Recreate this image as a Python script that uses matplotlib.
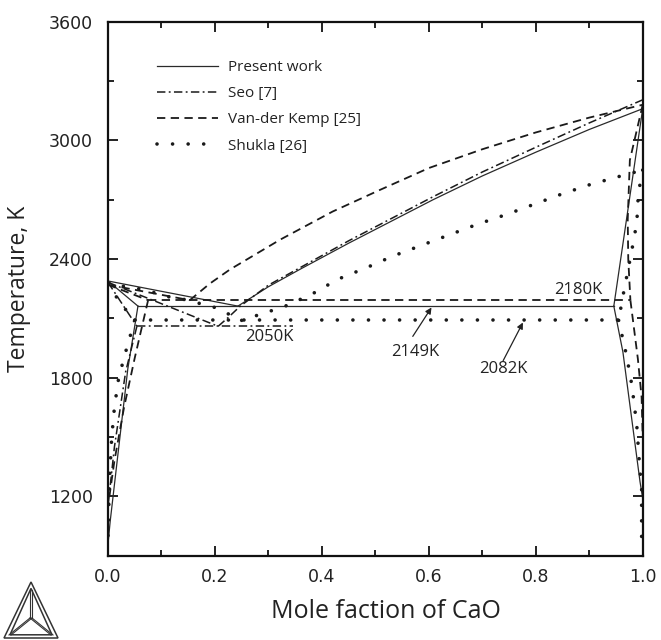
import matplotlib
matplotlib.use('Agg')
import matplotlib.pyplot as plt
from matplotlib.patches import Polygon

# ---------------- data (mole fraction CaO, temperature K) ----------------
# Present work (solid)
pw_liq_left_x = [0.0, 0.243]
pw_liq_left_T = [2289, 2162]
pw_liq_right_x = [0.243, 0.30, 0.359, 0.45, 0.608, 0.70, 0.80, 0.90, 1.0]
pw_liq_right_T = [2162, 2260, 2348, 2480, 2700, 2820, 2940, 3055, 3160]
pw_sol_left_x = [0.0, 0.056]
pw_sol_left_T = [2289, 2162]
pw_solv_left_x = [0.056, 0.037, 0.004, 0.0]
pw_solv_left_T = [2162, 1844, 1072, 960]
pw_sol_right_x = [1.0, 0.946]
pw_sol_right_T = [3160, 2162]
pw_solv_right_x = [0.946, 0.963, 0.995, 1.0]
pw_solv_right_T = [2162, 1930, 1274, 1190]
pw_eut_x = [0.056, 0.946]
pw_eut_T = [2162, 2162]

# Seo [7] (dash-dot)
seo_liq_left_x = [0.0, 0.206]
seo_liq_left_T = [2282, 2060]
seo_liq_right_x = [0.206, 0.225, 0.247, 0.30, 0.359, 0.45, 0.608, 0.70, 0.80, 0.90, 1.0]
seo_liq_right_T = [2060, 2105, 2161, 2268, 2356, 2492, 2715, 2840, 2965, 3088, 3205]
seo_sol_left_x = [0.0, 0.054]
seo_sol_left_T = [2282, 2060]
seo_solv_left_x = [0.054, 0.033, 0.012, 0.0]
seo_solv_left_T = [2060, 1830, 1450, 1150]
seo_eut_x = [0.054, 0.346]
seo_eut_T = [2060, 2060]

# Van-der Kemp [25] (dashed)
vdk_liq_left_x = [0.0, 0.153]
vdk_liq_left_T = [2270, 2192]
vdk_liq_right_x = [0.153, 0.19, 0.228, 0.322, 0.42, 0.509, 0.60, 0.70, 0.80, 0.90, 1.0]
vdk_liq_right_T = [2192, 2275, 2347, 2498, 2640, 2750, 2860, 2955, 3040, 3115, 3180]
vdk_sol_left_x = [0.0, 0.075]
vdk_sol_left_T = [2270, 2192]
vdk_solv_left_x = [0.075, 0.05, 0.03, 0.012, 0.0]
vdk_solv_left_T = [2192, 1900, 1650, 1380, 1150]
vdk_sol_right_x = [1.0, 0.976, 0.972, 0.973, 0.977]
vdk_sol_right_T = [3180, 2900, 2600, 2400, 2192]
vdk_solv_right_x = [0.977, 0.991, 0.998, 1.0]
vdk_solv_right_T = [2192, 1895, 1700, 1500]
vdk_eut_x = [0.075, 0.977]
vdk_eut_T = [2192, 2192]

# Shukla [26] (dotted)
sh_liq_left_x = [0.0, 0.066, 0.119, 0.144, 0.20, 0.25]
sh_liq_left_T = [2275, 2246, 2205, 2195, 2155, 2090]
sh_liq_right_x = [0.25, 0.33, 0.381, 0.43, 0.484, 0.533, 0.583, 0.64, 0.69, 0.745,
                  0.795, 0.845, 0.901, 0.958, 1.0]
sh_liq_right_T = [2090, 2160, 2222, 2298, 2357, 2415, 2466, 2524, 2575, 2625,
                  2675, 2725, 2776, 2819, 2850]
sh_sol_left_x = [0.0, 0.02, 0.04, 0.05]
sh_sol_left_T = [2275, 2190, 2120, 2090]
sh_solv_left_x = [0.05, 0.035, 0.02, 0.012, 0.007, 0.003, 0.0]
sh_solv_left_T = [2090, 1950, 1800, 1650, 1500, 1300, 1000]
sh_sol_right_x = [1.0, 0.992, 0.989, 0.98, 0.963, 0.955]
sh_sol_right_T = [2850, 2735, 2584, 2449, 2212, 2090]
sh_solv_right_x = [0.955, 0.970, 0.980, 0.989, 0.995, 0.998, 0.998]
sh_solv_right_T = [2090, 1910, 1758, 1557, 1325, 1255, 950]
sh_eut_x = [0.05, 0.955]
sh_eut_T = [2090, 2090]

legend_labels = ['Present work', 'Seo [7]', 'Van-der Kemp [25]', 'Shukla [26]']
x_ticks = [0.0, 0.2, 0.4, 0.6, 0.8, 1.0]
y_ticks = [1200, 1800, 2400, 3000, 3600]

# ---------------- figure ----------------
fig = plt.figure(figsize=(6.61, 6.40), dpi=100)
ax = fig.add_axes([0.1634, 0.1317, 0.8089, 0.8344])

ink = '#1a1a1a'
st_solid = dict(color='#2a2a2a', lw=0.9, ls='-')
st_dd = dict(color=ink, lw=1.1, ls=(0, (5.5, 2.2, 1.2, 2.2)))
st_dash = dict(color=ink, lw=1.3, ls=(0, (4.6, 3.0)))
st_dot = dict(color=ink, lw=2.6, ls=(0, (0.01, 4.3)), dash_capstyle='round')

def draw(pairs, style, label=None):
    first = True
    for xs, ts in pairs:
        ax.plot(xs, ts, label=label if first else None, **style)
        first = False

draw([(pw_liq_left_x, pw_liq_left_T), (pw_liq_right_x, pw_liq_right_T),
      (pw_sol_left_x, pw_sol_left_T), (pw_solv_left_x, pw_solv_left_T),
      (pw_sol_right_x, pw_sol_right_T), (pw_solv_right_x, pw_solv_right_T),
      (pw_eut_x, pw_eut_T)], st_solid, legend_labels[0])
draw([(seo_liq_left_x, seo_liq_left_T), (seo_liq_right_x, seo_liq_right_T),
      (seo_sol_left_x, seo_sol_left_T), (seo_solv_left_x, seo_solv_left_T),
      (seo_eut_x, seo_eut_T)], st_dd, legend_labels[1])
draw([(vdk_liq_left_x, vdk_liq_left_T), (vdk_liq_right_x, vdk_liq_right_T),
      (vdk_sol_left_x, vdk_sol_left_T), (vdk_solv_left_x, vdk_solv_left_T),
      (vdk_sol_right_x, vdk_sol_right_T), (vdk_solv_right_x, vdk_solv_right_T),
      (vdk_eut_x, vdk_eut_T)], st_dash, legend_labels[2])
draw([(sh_liq_left_x, sh_liq_left_T), (sh_liq_right_x, sh_liq_right_T),
      (sh_sol_left_x, sh_sol_left_T), (sh_solv_left_x, sh_solv_left_T),
      (sh_sol_right_x, sh_sol_right_T), (sh_solv_right_x, sh_solv_right_T),
      (sh_eut_x, sh_eut_T)], st_dot, legend_labels[3])

ax.set_xlim(0, 1.0)
ax.set_ylim(900, 3600)
ax.set_xticks(x_ticks)
ax.set_xticklabels([f'{v:.1f}' for v in x_ticks])
ax.set_xticks([0.1, 0.3, 0.5, 0.7, 0.9], minor=True)
ax.set_yticks(y_ticks)
ax.set_yticks([900, 1500, 2100, 2700, 3300], minor=True)
ax.tick_params(which='both', direction='in', top=True, right=True, width=1.3, color='#111111')
ax.tick_params(which='major', length=7.5)
ax.tick_params(which='minor', length=4)
ax.tick_params(axis='x', which='major', pad=9)
ax.tick_params(axis='y', which='major', pad=11)
for lab in ax.get_xticklabels() + ax.get_yticklabels():
    lab.set_fontfamily('DejaVu Sans')
    lab.set_fontsize(12.5)
    lab.set_color('#222222')
for sp in ax.spines.values():
    sp.set_linewidth(1.6)
    sp.set_color('#111111')

ax.set_xlabel('Mole faction of CaO', fontfamily='Open Sans', fontsize=18, va='center', color='#222222')
ax.xaxis.set_label_coords(0.52, -0.105)
ax.set_ylabel('Temperature, K', fontfamily='Open Sans', fontsize=16.5, va='center', color='#222222')
ax.yaxis.set_label_coords(-0.166, 0.5)

leg = ax.legend(loc='upper left', bbox_to_anchor=(0.092, 0.928), frameon=False,
                prop={'family': 'Open Sans', 'size': 11}, handlelength=4.0,
                handletextpad=0.65, labelspacing=0.73, borderpad=0, borderaxespad=0)
for t in leg.get_texts():
    t.set_color('#222222')

# annotations
tfont = dict(fontfamily='Open Sans', fontsize=12, color='#222222', ha='center', va='center')
ax.text(0.301, 2008, '2050K', **tfont)
ax.text(0.879, 2242, '2180K', **tfont)
ax.text(0.574, 1930, '2149K', **tfont)
ax.text(0.739, 1844, '2082K', **tfont)
arrow = dict(arrowstyle='-|>', color='#222222', lw=0.9, mutation_scale=9, shrinkA=0, shrinkB=0)
ax.annotate('', xy=(0.605, 2155), xytext=(0.570, 2009), arrowprops=arrow)
ax.annotate('', xy=(0.776, 2079), xytext=(0.739, 1886), arrowprops=arrow)

# logo (Thermo-Calc style triangle)
lax = fig.add_axes([0.0, 0.0, 62 / 661, 62 / 640])
lax.set_xlim(0, 62)
lax.set_ylim(0, 62)
lax.axis('off')
for off in (0, 4):
    pts = [(31, 58 - off * 1.6), (4 + off * 1.5, 2 + off * 0.8), (58 - off * 1.5, 2 + off * 0.8)]
    lax.add_patch(Polygon(pts, closed=True, fill=False, ec='#333333', lw=1.1))
cx, cy = 31, 22
for vx, vy in [(31, 50), (10, 5), (52, 5)]:
    lax.plot([cx - 1, vx - 1], [cy, vy], color='#333333', lw=0.8)
    lax.plot([cx + 1, vx + 1], [cy, vy], color='#333333', lw=0.8)

fig.savefig('out.png', dpi=100)
